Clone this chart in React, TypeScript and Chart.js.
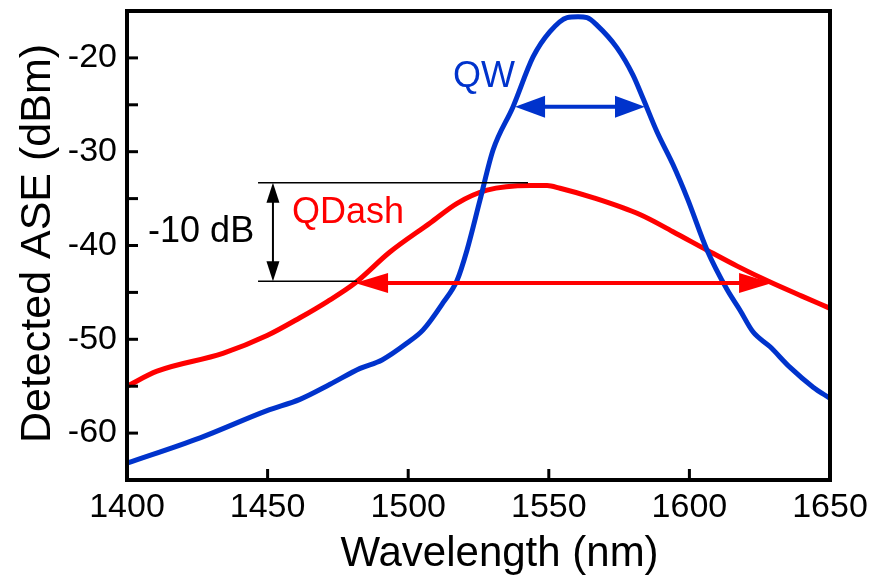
import React, { useEffect, useRef } from 'react';
import { Chart, registerables } from 'chart.js';

Chart.register(...registerables);

const FONT = '"Liberation Sans", Arial, Helvetica, sans-serif';
const BLUE = '#0033cc';
const RED = '#ff0000';
const BLACK = '#000000';

// ---- Data ----
const qwWavelength = [1400, 1426, 1449.8, 1461.5, 1472.2, 1482.9, 1490.7, 1499.6, 1505.3, 1512.4, 1517.4, 1520.9, 1525.5, 1530.2, 1537.3, 1544.4, 1550.4, 1556.5, 1560.4, 1563.6, 1567.1, 1574.2, 1579.9, 1583.5, 1588.5, 1594.2, 1599.3, 1606.3, 1613.4, 1618, 1622.6, 1628.7, 1635.8, 1644, 1650];
const qwPower = [-63.2, -60.5, -57.6, -56.4, -54.8, -53.1, -52.2, -50.4, -49.0, -46.1, -43.7, -40.5, -35.2, -29.8, -25.2, -19.9, -17.2, -15.7, -15.6, -15.7, -16.5, -18.9, -21.8, -24.3, -27.9, -31.4, -35.0, -40.5, -44.7, -46.9, -49.2, -50.8, -53.0, -55.1, -56.3];

const qdWavelength = [1400, 1410.7, 1434.1, 1449.8, 1461.5, 1471.1, 1481.1, 1493.5, 1507.8, 1517.4, 1528, 1543.3, 1549.4, 1554, 1565.7, 1582.4, 1594, 1606.3, 1617, 1628.7, 1640, 1650];
const qdPower = [-55.0, -53.4, -51.5, -49.6, -47.7, -46.0, -44.0, -40.7, -37.6, -35.5, -34.1, -33.6, -33.6, -33.9, -34.9, -36.7, -38.5, -40.5, -42.2, -43.9, -45.4, -46.7];

const xMin = 1400;
const xMax = 1650;
const xStep = 50;
const yMin = -65;
const yMax = -15;
const yMinorStep = 5;
const yLabelStep = 10;

// ---- Annotations (in data units) ----
const qwArrowSpan = [1538.0, 1584.2];
const qwArrowLevel = -25.2;
const qdArrowSpan = [1481.1, 1629.4];
const qdArrowLevel = -44.0;
const refLevels = [-33.3, -43.8];
const refLineStart = 1446.6;
const refLineEnds = [1542.6, 1481.8];
const dbArrowX = 1451.9;
const annotationTexts = [
  { text: 'QW', x: 1515.9, y: -23.1, color: BLUE },
  { text: 'QDash', x: 1458.7, y: -37.6, color: RED },
  { text: '-10 dB', x: 1407.5, y: -39.6, color: BLACK },
];

const xTitle = 'Wavelength (nm)';
const yTitle = 'Detected ASE (dBm)';

function arrowHead(ctx: CanvasRenderingContext2D, tipX: number, tipY: number, dx: number, dy: number, len: number, halfW: number) {
  const bx = tipX - dx * len;
  const by = tipY - dy * len;
  ctx.beginPath();
  ctx.moveTo(tipX, tipY);
  ctx.lineTo(bx - dy * halfW, by + dx * halfW);
  ctx.lineTo(bx + dy * halfW, by - dx * halfW);
  ctx.closePath();
  ctx.fill();
}

function hDoubleArrow(ctx: CanvasRenderingContext2D, x1: number, x2: number, y: number, color: string, lw: number, len: number, halfW: number) {
  ctx.save();
  ctx.strokeStyle = color;
  ctx.fillStyle = color;
  ctx.lineWidth = lw;
  ctx.beginPath();
  ctx.moveTo(x1 + len * 0.5, y);
  ctx.lineTo(x2 - len * 0.5, y);
  ctx.stroke();
  arrowHead(ctx, x1, y, -1, 0, len, halfW);
  arrowHead(ctx, x2, y, 1, 0, len, halfW);
  ctx.restore();
}

const decorPlugin = {
  id: 'decor',
  afterDatasetsDraw(chart: any) {
    const ctx: CanvasRenderingContext2D = chart.ctx;
    const xs = chart.scales.x;
    const ys = chart.scales.y;
    const X = (v: number) => xs.getPixelForValue(v);
    const Y = (v: number) => ys.getPixelForValue(v);

    // reference lines
    ctx.save();
    ctx.strokeStyle = BLACK;
    ctx.lineWidth = 1.5;
    refLevels.forEach((lv, i) => {
      ctx.beginPath();
      ctx.moveTo(X(refLineStart), Y(lv));
      ctx.lineTo(X(refLineEnds[i]), Y(lv));
      ctx.stroke();
    });
    ctx.restore();

    // vertical -10 dB arrow
    ctx.save();
    ctx.strokeStyle = BLACK;
    ctx.fillStyle = BLACK;
    ctx.lineWidth = 2;
    const ax = X(dbArrowX);
    const yTop = Y(refLevels[0]);
    const yBot = Y(refLevels[1]);
    ctx.beginPath();
    ctx.moveTo(ax, yTop + 8);
    ctx.lineTo(ax, yBot - 8);
    ctx.stroke();
    arrowHead(ctx, ax, yTop, 0, -1, 20, 6.5);
    arrowHead(ctx, ax, yBot, 0, 1, 20, 6.5);
    ctx.restore();

    hDoubleArrow(ctx, X(qwArrowSpan[0]), X(qwArrowSpan[1]), Y(qwArrowLevel), BLUE, 4, 30, 11);
    hDoubleArrow(ctx, X(qdArrowSpan[0]), X(qdArrowSpan[1]), Y(qdArrowLevel), RED, 4, 33, 10);

    // annotation texts
    ctx.save();
    ctx.font = `36px ${FONT}`;
    ctx.textAlign = 'left';
    ctx.textBaseline = 'alphabetic';
    annotationTexts.forEach((t) => {
      ctx.fillStyle = t.color;
      ctx.fillText(t.text, X(t.x), Y(t.y));
    });
    ctx.restore();
  },
  afterDraw(chart: any) {
    const ctx: CanvasRenderingContext2D = chart.ctx;
    const a = chart.chartArea;
    const xs = chart.scales.x;
    const ys = chart.scales.y;

    // inward ticks
    ctx.save();
    ctx.strokeStyle = BLACK;
    ctx.lineWidth = 3;
    for (let v = xMin + xStep; v < xMax; v += xStep) {
      const px = xs.getPixelForValue(v);
      ctx.beginPath();
      ctx.moveTo(px, a.bottom);
      ctx.lineTo(px, a.bottom - 11);
      ctx.stroke();
    }
    for (let v = yMin + yMinorStep; v < yMax; v += yMinorStep) {
      const py = ys.getPixelForValue(v);
      ctx.beginPath();
      ctx.moveTo(a.left, py);
      ctx.lineTo(a.left + 11, py);
      ctx.stroke();
    }
    // frame
    ctx.lineWidth = 4;
    ctx.strokeRect(a.left, a.top, a.right - a.left, a.bottom - a.top);
    ctx.restore();

    // axis titles
    ctx.save();
    ctx.fillStyle = BLACK;
    ctx.font = `42px ${FONT}`;
    ctx.textAlign = 'center';
    ctx.textBaseline = 'alphabetic';
    ctx.fillText(xTitle, (a.left + a.right) / 2 + 21, a.bottom + 86);
    ctx.translate(50, (a.top + a.bottom) / 2 - 2);
    ctx.rotate(-Math.PI / 2);
    ctx.font = `43px ${FONT}`;
    ctx.fillText(yTitle, 0, 0);
    ctx.restore();
  },
};

export default function App() {
  const canvasRef = useRef<HTMLCanvasElement | null>(null);

  useEffect(() => {
    if (!canvasRef.current) return;
    const chart = new Chart(canvasRef.current, {
      type: 'line',
      data: {
        datasets: [
          {
            label: 'QW',
            data: qwWavelength.map((x, i) => ({ x, y: qwPower[i] })),
            borderColor: BLUE,
            borderWidth: 5,
            pointRadius: 0,
            cubicInterpolationMode: 'monotone',
            fill: false,
          },
          {
            label: 'QDash',
            data: qdWavelength.map((x, i) => ({ x, y: qdPower[i] })),
            borderColor: RED,
            borderWidth: 5,
            pointRadius: 0,
            cubicInterpolationMode: 'monotone',
            fill: false,
          },
        ],
      },
      options: {
        animation: false,
        responsive: true,
        maintainAspectRatio: false,
        layout: { padding: { left: 0, top: 11, right: 40, bottom: 0 } },
        plugins: { legend: { display: false }, tooltip: { enabled: false } },
        scales: {
          x: {
            type: 'linear',
            min: xMin,
            max: xMax,
            grid: { display: false, drawTicks: false },
            border: { display: false },
            ticks: {
              stepSize: xStep,
              autoSkip: false,
              maxRotation: 0,
              padding: 7,
              color: BLACK,
              font: { family: FONT, size: 34 },
              callback: (v: any) => String(v),
            },
            afterFit: (s: any) => {
              s.height = 104;
              s.paddingLeft = 0;
              s.paddingRight = 0;
            },
          },
          y: {
            type: 'linear',
            min: yMin,
            max: yMax,
            grid: { display: false, drawTicks: false },
            border: { display: false },
            ticks: {
              stepSize: yMinorStep,
              autoSkip: false,
              padding: 10,
              color: BLACK,
              font: { family: FONT, size: 34 },
              callback: (v: any) => (Number(v) % yLabelStep === 0 ? String(v) : null),
            },
            afterFit: (s: any) => {
              s.width = 127;
              s.paddingTop = 0;
              s.paddingBottom = 0;
            },
          },
        },
      },
      plugins: [decorPlugin],
    } as any);
    return () => chart.destroy();
  }, []);

  return (
    <div style={{ position: 'absolute', left: 0, top: 0, width: 870, height: 584, background: '#fff' }}>
      <canvas ref={canvasRef} />
    </div>
  );
}
